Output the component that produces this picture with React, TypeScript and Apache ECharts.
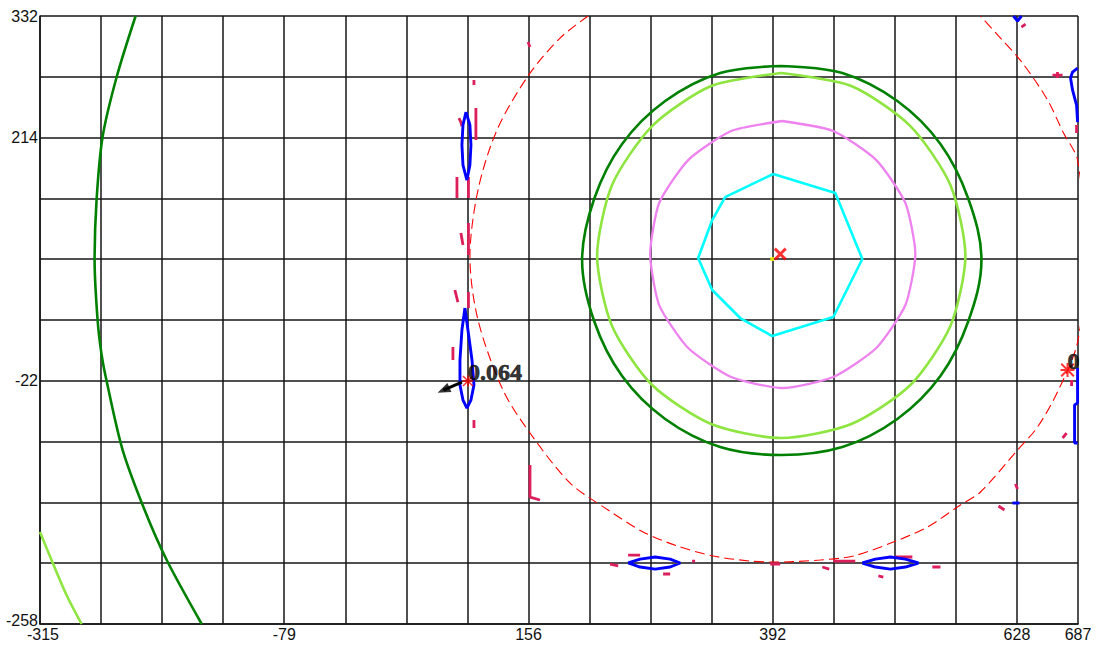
import React, { useEffect, useRef } from "react";
import * as echarts from "echarts";

// ---- axes ----
const X_MIN = -315;
const X_MAX = 687;
const Y_MIN = -258;
const Y_MAX = 332;
const X_DIVISIONS = 17;
const Y_DIVISIONS = 10;
const xTickIndex = [0, 4, 8, 12, 16, 17];
const xTickLabels = ["-315", "-79", "156", "392", "628", "687"];
const yTickIndex = [0, 4, 8, 10];
const yTickLabels = ["-258", "-22", "214", "332"];

// ---- contour lines (data units) ----
const bigDarkGreenArc = [
  [-222.7, 332], [-241, 272.8], [-254.6, 214.6], [-260.4, 153.4], [-262.3, 95.2],
  [-259.4, 37], [-255.5, 3], [-250.7, -22.2], [-235.2, -89.2], [-214, -147.4],
  [-192.7, -195.9], [-158.9, -258],
];
const bigLightGreenArc = [
  [-315, -168.7], [-303.9, -195.9], [-289.4, -229.9], [-274.9, -258],
];
const darkGreenRing = [
  [400.5, 283.5], [459.5, 276.7], [512.6, 249.5], [554.2, 207.8], [581.2, 154.4],
  [593.8, 95.2], [581.2, 36], [554.2, -17.4], [512.6, -59.1], [459.5, -86.3],
  [400.5, -94], [341.6, -86.3], [288.5, -59.1], [246.9, -17.4], [219.9, 36],
  [208.3, 95.2], [219.9, 154.4], [246.9, 207.8], [288.5, 249.5], [341.6, 276.7],
  [400.5, 283.5],
];
const lightGreenRing = [
  [400.5, 276.7], [468.2, 264], [525.2, 225.2], [563.8, 168], [578.3, 99.1],
  [563.8, 31.2], [525.2, -26.1], [468.2, -63.9], [400.5, -77.5], [332.9, -63.9],
  [275.9, -26.1], [237.2, 31.2], [222.8, 99.1], [237.2, 168], [275.9, 225.2],
  [332.9, 264], [400.5, 276.7],
];
const violetRing = [
  [401.5, 230.1], [450.8, 220.4], [492.3, 192.2], [520.4, 150.5], [530, 101],
  [520.4, 51.5], [492.3, 9.8], [450.8, -18.3], [401.5, -29], [352.2, -18.3],
  [310.7, 9.8], [282.7, 51.5], [274, 101], [282.7, 150.5], [310.7, 192.2],
  [352.2, 220.4], [401.5, 230.1],
];
const cyanRing = [
  [392.8, 178.7], [452.7, 160.2], [478.8, 96.2], [450.8, 39.9], [391.8, 21.4],
  [360.9, 38.9], [333.9, 66.1], [320.3, 97.1], [333.9, 134], [346.4, 156.3],
  [392.8, 178.7],
];
const redDashedCircle = [
  [214.1, 332], [187, 310.6], [156.1, 273.8], [126.1, 221.3], [107.8, 163.1],
  [100, 98.1], [107.8, 37], [131.9, -31], [158, -72.7], [196.7, -121.2],
  [233.4, -147.4], [267.2, -168.7], [300.1, -182.3], [334.8, -192], [370.6, -196.9],
  [396.7, -197.9], [438.2, -195.9], [470.1, -192], [508.8, -178.5], [541.6, -163.9],
  [573.5, -142.5], [592.8, -129.9], [628.6, -89.2], [647.9, -66.9], [667.2, -32.9],
  [686.6, 15.6], [694.3, 98.1], [686.6, 192.2], [673, 218.4], [657.6, 250.5],
  [633.4, 286.4], [612.2, 310.6], [592.8, 332],
];
const blueContours = [
  [[96.2, 238.8], [100, 226.2], [101, 206.8], [100, 187.4], [97.1, 172.8], [93.3, 187.4], [92.3, 206.8], [93.3, 226.2], [96.2, 238.8]],
  [[95.2, 48.6], [98.1, 27.3], [102, -1.8], [103.9, -26.1], [101, -40.7], [97.1, -48.4], [93.3, -40.7], [90.4, -26.1], [90.4, -1.8], [92.3, 27.3], [95.2, 48.6]],
  [[252.7, -198.8], [264.3, -195], [278.8, -193], [293.3, -195], [303, -198.8], [293.3, -202.7], [278.8, -204.7], [264.3, -202.7], [252.7, -198.8]],
  [[478.8, -198.8], [491.4, -195], [505.9, -193], [520.4, -195], [532.9, -198.8], [520.4, -202.7], [505.9, -204.7], [491.4, -202.7], [478.8, -198.8]],
  [[686.6, 281.5], [681.7, 277.6], [679.8, 271.8], [681.7, 260.2], [685.6, 245.6], [686.6, 229.1]],
  [[686.6, -9.6], [686.6, -43.6], [683.7, -45.5], [683.7, -82.4], [686.6, -82.4]],
  [[624.7, 332], [628.6, 327.1], [632.4, 332]],
  [[623.7, -140.6], [630.5, -140.6]],
];
const crimsonMarks = [
  [[103.9, 269.9], [103.9, 265]],
  [[105.8, 242.7], [105.8, 211.6]],
  [[89.4, 233], [91.3, 229.1], [92.3, 225.2]],
  [[87.5, 175.7], [87.5, 155.4]],
  [[98.6, 175.7], [98.6, 155.4]],
  [[98.6, 131.1], [98.6, 100.1]],
  [[91.3, 121.4], [93.3, 109.8]],
  [[98.6, 64.1], [98.6, 48.6]],
  [[85.5, 66.1], [88.4, 54.4]],
  [[83.6, 10.8], [83.6, -1.8]],
  [[103.9, -60.1], [103.9, -67.8]],
  [[156.1, 306.7], [158, 301.9]],
  [[158, -103.7], [158, -134.8], [167.7, -137.7]],
  [[632.4, 321.3], [636.3, 324.2]],
  [[662.4, 274.7], [672.1, 274.7]],
  [[667.2, 277.6], [667.2, 271.8]],
  [[685.6, 226.2], [685.6, 218.4]],
  [[680.8, -21.2], [680.8, -27.1]],
  [[672.1, -77.5], [676, -72.7]],
  [[626.6, -122.2], [628.6, -127]],
  [[610.2, -143.5], [616, -147.4]],
  [[252.7, -191.1], [264.3, -191.1]],
  [[235.3, -199.8], [243.1, -201.7]],
  [[286.5, -209.5], [293.3, -209.5]],
  [[314.5, -196.9], [317.4, -196.9]],
  [[389.9, -199.8], [399.6, -199.8]],
  [[440.2, -202.7], [446.9, -204.7]],
  [[450.8, -196.9], [472, -196.9]],
  [[510.7, -193], [527.1, -193]],
  [[494.3, -211.4], [499.1, -212.4]],
  [[546.4, -202.7], [554.2, -202.7]],
];

// ---- markers & annotations ----
const starPoints = [[98.1, -22.2], [676.9, -11.5]];
const starLabels = ["0.064", "0"];
const starSizes = [11, 14];
const centerCross = [399.6, 101];
const centerDot = [391.8, 96.2];
const arrowShaft = [[92.3, -23.2], [74.5, -31.1]];
const arrowHead = [74.5, -31.1];

const ASTERISK =
  "path://M0,4.3L10,4.3L10,5.7L0,5.7ZM4.3,0L5.7,0L5.7,10L4.3,10ZM1,0L10,9L9,10L0,1ZM9,0L10,1L1,10L0,9Z";
const CROSS =
  "path://M0,1.6L1.6,0L5,3.4L8.4,0L10,1.6L6.6,5L10,8.4L8.4,10L5,6.6L1.6,10L0,8.4L3.4,5Z";

const GRID_COLOR = "#161616";
const LABEL_FONT = "Liberation Sans, Arial, sans-serif";

function line(data: number[][], color: string, width: number, extra: any = {}) {
  return {
    type: "line",
    data,
    showSymbol: false,
    symbol: "none",
    silent: true,
    lineStyle: { color, width, ...(extra.lineStyle || {}) },
    smooth: extra.smooth ?? false,
    z: extra.z ?? 3,
  };
}

export default function App() {
  const ref = useRef<HTMLDivElement>(null);
  useEffect(() => {
    if (!ref.current) return;
    const chart = echarts.init(ref.current, null, { renderer: "svg" });
    const series: any[] = [];
    series.push(line(redDashedCircle, "#ff0000", 1.1, { lineStyle: { type: [10, 5] }, smooth: 0.3 }));
    crimsonMarks.forEach((seg) => series.push(line(seg, "#dc1e5a", 2.8)));
    series.push(line(bigDarkGreenArc, "#008000", 2.6, { smooth: 0.3 }));
    series.push(line(bigLightGreenArc, "#8ee53f", 2.6, { smooth: 0.3 }));
    series.push(line(darkGreenRing, "#008000", 2.6, { smooth: 0.35 }));
    series.push(line(lightGreenRing, "#8ee53f", 2.6, { smooth: 0.25 }));
    series.push(line(violetRing, "#ee82ee", 2.3, { smooth: 0.2 }));
    series.push(line(cyanRing, "#00ffff", 2.6));
    blueContours.forEach((seg) => series.push(line(seg, "#0000ff", 2.9, { z: 4 })));
    // arrow
    series.push(line(arrowShaft, "#000000", 3, { z: 7 }));
    series.push({
      type: "scatter",
      silent: true,
      z: 7,
      symbol: "triangle",
      symbolSize: [10, 13],
      symbolRotate: 114,
      itemStyle: { color: "#000000" },
      data: [arrowHead],
    });
    series.push({
      type: "scatter",
      silent: true,
      z: 6,
      symbol: ASTERISK,
      itemStyle: { color: "#ff0000" },
      data: starPoints.map((p, i) => ({
        value: p,
        symbolSize: starSizes[i],
        label: {
          show: true,
          formatter: starLabels[i],
          position: [starSizes[i] / 2, starSizes[i] / 2 - 9],
          align: "left",
          verticalAlign: "middle",
          fontFamily: "Liberation Serif, Times New Roman, serif",
          fontWeight: "bold",
          fontSize: 24,
          color: "#000",
          textBorderColor: "#000",
          textBorderWidth: 0.7,
        },
      })),
    });
    series.push({
      type: "scatter",
      silent: true,
      z: 6,
      symbol: CROSS,
      symbolSize: 13,
      itemStyle: { color: "#ff0000" },
      data: [centerCross],
    });
    series.push({
      type: "scatter",
      silent: true,
      z: 5,
      symbol: "rect",
      symbolSize: 4,
      itemStyle: { color: "#ffff00" },
      data: [centerDot],
    });

    const labelFor = (idx: number[], labels: string[], firstStyle: string) => (v: number) => {
      const i = idx.indexOf(Math.round(v));
      if (i < 0) return "";
      return i === 0 ? `{${firstStyle}|${labels[i]}}` : labels[i];
    };

    const labelBase = {
      color: "#111",
      fontSize: 16,
      fontFamily: LABEL_FONT,
      showMinLabel: true,
      showMaxLabel: true,
    };

    chart.setOption({
      animation: false,
      backgroundColor: "#ffffff",
      grid: { left: 40, top: 16, width: 1038, height: 608, outerBoundsMode: "none", containLabel: false },
      xAxis: [
        { type: "value", min: X_MIN, max: X_MAX, show: false, position: "top" },
        {
          type: "value",
          min: 0,
          max: X_DIVISIONS,
          interval: 1,
          position: "bottom",
          axisLine: { show: true, onZero: false, lineStyle: { color: GRID_COLOR, width: 1.5 } },
          axisTick: { show: false },
          splitLine: { show: true, lineStyle: { color: GRID_COLOR, width: 1.5 } },
          axisLabel: {
            ...labelBase,
            formatter: labelFor(xTickIndex, xTickLabels, "first"),
            margin: 2,
            rich: {
              first: { color: "#111", fontSize: 16, fontFamily: LABEL_FONT, padding: [0, 0, 0, 6] },
            },
          },
        },
      ],
      yAxis: [
        { type: "value", min: Y_MIN, max: Y_MAX, show: false, position: "right" },
        {
          type: "value",
          min: 0,
          max: Y_DIVISIONS,
          interval: 1,
          position: "left",
          axisLine: { show: true, onZero: false, lineStyle: { color: GRID_COLOR, width: 1.5 } },
          axisTick: { show: false },
          splitLine: { show: true, lineStyle: { color: GRID_COLOR, width: 1.5 } },
          axisLabel: {
            ...labelBase,
            formatter: labelFor(yTickIndex, yTickLabels, "first"),
            margin: 2,
            rich: {
              first: { color: "#111", fontSize: 16, fontFamily: LABEL_FONT, padding: [0, 0, 7, 0] },
            },
          },
        },
      ],
      series,
    });
    return () => chart.dispose();
  }, []);
  return (
    <div
      ref={ref}
      style={{ position: "absolute", left: 0, top: 0, width: 1099, height: 646, background: "#fff" }}
    />
  );
}
